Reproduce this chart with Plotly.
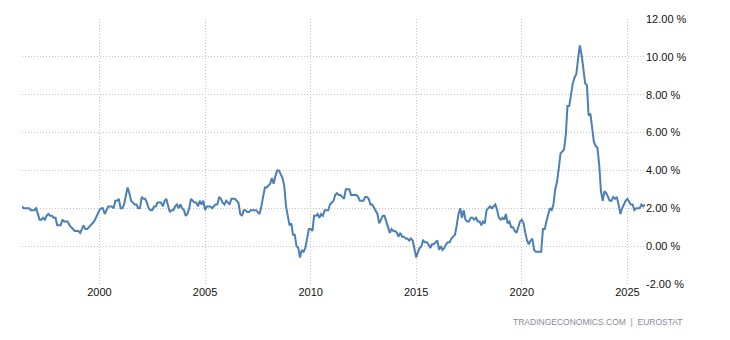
import pandas as pd
import plotly.graph_objects as go

# Monthly euro area inflation rate (%), May 1996 .. Nov 2025
start_month = "1996-05-01"
rates_1996_2000 = [
    2.1, 2.0, 2.0, 2.0, 2.0, 1.9, 1.9, 1.9,
    2.0, 1.7, 1.4, 1.4, 1.5, 1.4, 1.6, 1.7, 1.6, 1.6, 1.5, 1.5,
    1.1, 1.1, 1.1, 1.4, 1.3, 1.3, 1.3, 1.1, 1.0, 0.9, 0.8, 0.8,
    0.8, 0.7, 0.9, 1.1, 0.9, 0.9, 1.0, 1.1, 1.2, 1.3, 1.5, 1.7,
    1.9, 2.0, 2.0, 1.7, 1.9, 2.1, 2.1, 2.1, 2.0, 2.4, 2.4, 2.5,
]
rates_2001_2005 = [
    2.0, 2.0, 2.2, 2.6, 3.1, 2.8, 2.4, 2.3, 2.2, 2.2, 2.0, 2.0,
    2.6, 2.5, 2.5, 2.3, 2.0, 1.9, 1.9, 2.1, 2.1, 2.3, 2.3, 2.3,
    2.1, 2.4, 2.5, 2.1, 1.8, 1.9, 1.9, 2.1, 2.2, 2.0, 2.2, 2.0,
    1.9, 1.6, 1.7, 2.0, 2.5, 2.4, 2.3, 2.3, 2.1, 2.4, 2.2, 2.4,
    1.9, 2.1, 2.1, 2.1, 2.0, 2.1, 2.2, 2.2, 2.6, 2.5, 2.3, 2.2,
]
rates_2006_2010 = [
    2.4, 2.3, 2.2, 2.5, 2.5, 2.5, 2.4, 2.3, 1.7, 1.6, 1.9, 1.9,
    1.8, 1.8, 1.9, 1.9, 1.9, 1.9, 1.8, 1.7, 2.1, 2.6, 3.1, 3.1,
    3.2, 3.3, 3.6, 3.3, 3.7, 4.0, 4.0, 3.8, 3.6, 3.2, 2.1, 1.6,
    1.1, 1.2, 0.6, 0.6, 0.0, -0.1, -0.6, -0.2, -0.3, -0.1, 0.5, 0.9,
    0.9, 0.8, 1.6, 1.6, 1.7, 1.5, 1.7, 1.6, 1.9, 1.9, 1.9, 2.2,
]
rates_2011_2015 = [
    2.3, 2.4, 2.7, 2.8, 2.7, 2.7, 2.6, 2.5, 3.0, 3.0, 3.0, 2.7,
    2.7, 2.7, 2.7, 2.6, 2.4, 2.4, 2.4, 2.6, 2.6, 2.5, 2.2, 2.2,
    2.0, 1.8, 1.7, 1.2, 1.4, 1.6, 1.6, 1.3, 1.1, 0.7, 0.9, 0.8,
    0.8, 0.7, 0.5, 0.7, 0.5, 0.5, 0.4, 0.4, 0.3, 0.4, 0.3, -0.2,
    -0.6, -0.3, -0.1, 0.0, 0.3, 0.2, 0.2, 0.1, -0.1, 0.1, 0.1, 0.2,
]
rates_2016_2020 = [
    0.3, -0.2, 0.0, -0.2, -0.1, 0.1, 0.2, 0.2, 0.4, 0.5, 0.6, 1.1,
    1.7, 2.0, 1.5, 1.9, 1.4, 1.3, 1.3, 1.5, 1.5, 1.4, 1.5, 1.3,
    1.3, 1.1, 1.3, 1.2, 1.9, 2.0, 2.1, 2.0, 2.1, 2.2, 1.9, 1.5,
    1.4, 1.5, 1.4, 1.7, 1.2, 1.3, 1.0, 1.0, 0.8, 0.7, 1.0, 1.3,
    1.4, 1.2, 0.7, 0.3, 0.1, 0.3, 0.4, -0.2, -0.3, -0.3, -0.3, -0.3,
]
rates_2021_2025 = [
    0.9, 0.9, 1.3, 1.6, 2.0, 1.9, 2.2, 3.0, 3.4, 4.1, 4.9, 5.0,
    5.1, 5.9, 7.4, 7.4, 8.1, 8.6, 8.9, 9.1, 9.9, 10.6, 10.1, 9.2,
    8.6, 8.5, 6.9, 7.0, 6.1, 5.5, 5.3, 5.2, 4.3, 2.9, 2.4, 2.9,
    2.8, 2.6, 2.4, 2.4, 2.6, 2.5, 2.6, 2.2, 1.7, 2.0, 2.2, 2.4,
    2.5, 2.3, 2.2, 2.2, 1.9, 2.0, 2.0, 2.0, 2.2, 2.1, 2.2,
]

x_tick_years = [2000, 2005, 2010, 2015, 2020, 2025]
y_ticks = [-2, 0, 2, 4, 6, 8, 10, 12]
y_tick_labels = ["-2.00 %", "0.00 %", "2.00 %", "4.00 %", "6.00 %",
                 "8.00 %", "10.00 %", "12.00 %"]
source_text = "TRADINGECONOMICS.COM  |  EUROSTAT"

values = (rates_1996_2000 + rates_2001_2005 + rates_2006_2010 +
          rates_2011_2015 + rates_2016_2020 + rates_2021_2025)
dates = pd.date_range(start_month, periods=len(values), freq="MS")

fig = go.Figure()
fig.add_trace(go.Scatter(
    x=dates, y=values, mode="lines",
    line=dict(color="#4a80b5", width=2),
    hoverinfo="skip", showlegend=False,
))

font_family = "Liberation Sans, Arial, sans-serif"
grid_dash = "1px,2px"
fig.update_layout(
    width=730, height=340,
    margin=dict(l=22, r=85, t=19, b=56),
    paper_bgcolor="white", plot_bgcolor="white",
    font=dict(family=font_family, size=11, color="#111111"),
    xaxis=dict(
        range=[dates[0], dates[-1]],
        tickvals=[pd.Timestamp(f"{y}-01-01") for y in x_tick_years],
        ticktext=[str(y) for y in x_tick_years],
        showgrid=True, gridcolor="#c4c4c4", griddash=grid_dash, gridwidth=1,
        ticks="", showline=False, zeroline=False,
        tickfont=dict(size=11, color="#111111"),
    ),
    yaxis=dict(
        range=[-2, 12], side="right",
        tickvals=y_ticks, ticktext=y_tick_labels,
        showgrid=True, gridcolor="#c4c4c4", griddash=grid_dash, gridwidth=1,
        ticks="", showline=False, zeroline=False,
        tickfont=dict(size=11, color="#111111"),
    ),
    annotations=[dict(
        text=source_text, xref="paper", yref="paper",
        x=(685 - 22) / (730 - 22 - 85), y=-0.145,
        xanchor="right", yanchor="middle", showarrow=False,
        font=dict(size=8.5, color="#8a8a9a", family=font_family),
    )],
)

fig.write_html("out.html")
